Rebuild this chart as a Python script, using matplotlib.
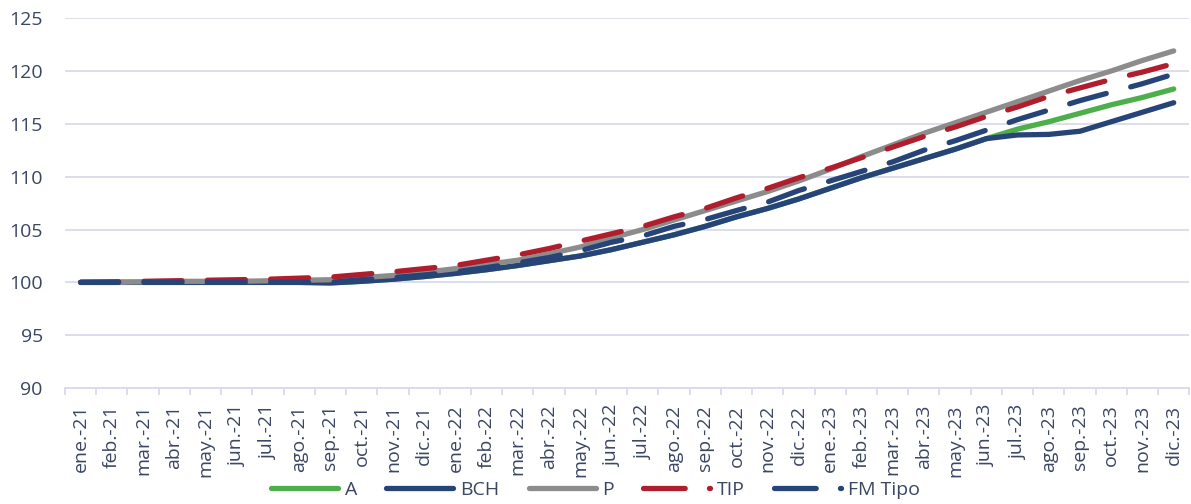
import matplotlib.pyplot as plt

months = ["ene.-21", "feb.-21", "mar.-21", "abr.-21", "may.-21", "jun.-21",
          "jul.-21", "ago.-21", "sep.-21", "oct.-21", "nov.-21", "dic.-21",
          "ene.-22", "feb.-22", "mar.-22", "abr.-22", "may.-22", "jun.-22",
          "jul.-22", "ago.-22", "sep.-22", "oct.-22", "nov.-22", "dic.-22",
          "ene.-23", "feb.-23", "mar.-23", "abr.-23", "may.-23", "jun.-23",
          "jul.-23", "ago.-23", "sep.-23", "oct.-23", "nov.-23", "dic.-23"]

bch = [100.0, 100.0, 100.0, 100.0, 100.0, 100.0, 100.0, 100.0, 99.95, 100.1,
       100.3, 100.55, 100.85, 101.2, 101.6, 102.05, 102.5, 103.1, 103.8, 104.5,
       105.3, 106.2, 107.0, 107.9, 108.9, 109.9, 110.8, 111.7, 112.6, 113.6,
       113.95, 114.0, 114.3, 115.2, 116.1, 117.0]
a = bch[:30] + [114.5, 115.2, 116.0, 116.8, 117.5, 118.3]
p = [100.0, 100.0, 100.05, 100.1, 100.1, 100.1, 100.15, 100.2, 100.25, 100.45,
     100.65, 100.95, 101.3, 101.7, 102.1, 102.7, 103.35, 104.2, 105.0, 105.9,
     106.8, 107.7, 108.6, 109.6, 110.7, 111.9, 113.0, 114.1, 115.1, 116.1,
     117.1, 118.1, 119.1, 120.0, 121.0, 121.9]
tip = [100.0, 100.05, 100.1, 100.15, 100.2, 100.25, 100.3, 100.4, 100.5, 100.75,
       101.0, 101.3, 101.6, 102.1, 102.6, 103.2, 103.9, 104.6, 105.3, 106.2,
       107.0, 108.0, 108.9, 109.9, 110.8, 111.8, 112.8, 113.8, 114.7, 115.7,
       116.6, 117.6, 118.4, 119.2, 119.9, 120.7]
fm = [100.0, 100.0, 100.0, 100.0, 100.0, 100.0, 100.0, 100.0, 100.0, 100.25,
      100.45, 100.7, 101.0, 101.4, 101.85, 102.35, 103.0, 103.8, 104.4, 105.3,
      105.95, 106.8, 107.6, 108.7, 109.6, 110.5, 111.4, 112.5, 113.4, 114.4,
      115.4, 116.3, 117.2, 118.0, 118.8, 119.7]

text_c = "#3B4663"
grid_c = "#D9DBEC"

plt.rcParams["font.family"] = ["Open Sans", "DejaVu Sans"]

fig = plt.figure(figsize=(11.91, 5.04), dpi=100)
ax = fig.add_axes([0.0546, 0.230, 0.944, 0.734])

x = list(range(len(months)))
lw = 3.8
ax.plot(x, a, color="#4CAF4A", lw=lw, solid_capstyle="round", label="A")
ax.plot(x, bch, color="#264478", lw=lw, solid_capstyle="round", label="BCH")
ax.plot(x, p, color="#8C8C8C", lw=lw, solid_capstyle="round", label="P")
ax.plot(x, tip, color="#B01E2D", lw=lw, dashes=(7.2, 4.8),
        dash_capstyle="round", label="TIP")
ax.plot(x, fm, color="#264478", lw=lw, dashes=(7.2, 4.8),
        dash_capstyle="round", label="FM Tipo")

ax.set_xlim(-0.5, len(months) - 0.5)
ax.set_ylim(90, 125)
ax.set_yticks(range(90, 126, 5))
ax.set_xticks(x)
ax.set_xticklabels(months, rotation=90)
ax.set_xticks([i - 0.5 for i in range(len(months) + 1)], minor=True)

ax.grid(axis="y", color=grid_c, lw=1.3)
ax.set_axisbelow(True)
for s in ["top", "right", "left"]:
    ax.spines[s].set_visible(False)
ax.spines["bottom"].set_color(grid_c)
ax.spines["bottom"].set_linewidth(1.3)

ax.tick_params(axis="y", length=0, pad=16, labelsize=14, labelcolor=text_c)
ax.tick_params(axis="x", which="major", length=0, pad=12, labelsize=14,
               labelcolor=text_c)
ax.tick_params(axis="x", which="minor", length=5, width=1.3, color=grid_c)

leg = fig.legend(loc="lower center", bbox_to_anchor=(0.5, -0.025), ncol=5,
                 frameon=False, fontsize=14, handlelength=3.45,
                 handletextpad=0.35, columnspacing=1.5, labelcolor=text_c)
# legend samples of the dashed series: one dash, then a dot
for ln in leg.get_lines()[3:]:
    ln.set_dashes((7.9, 4.6))

fig.savefig("out.png", dpi=100)
